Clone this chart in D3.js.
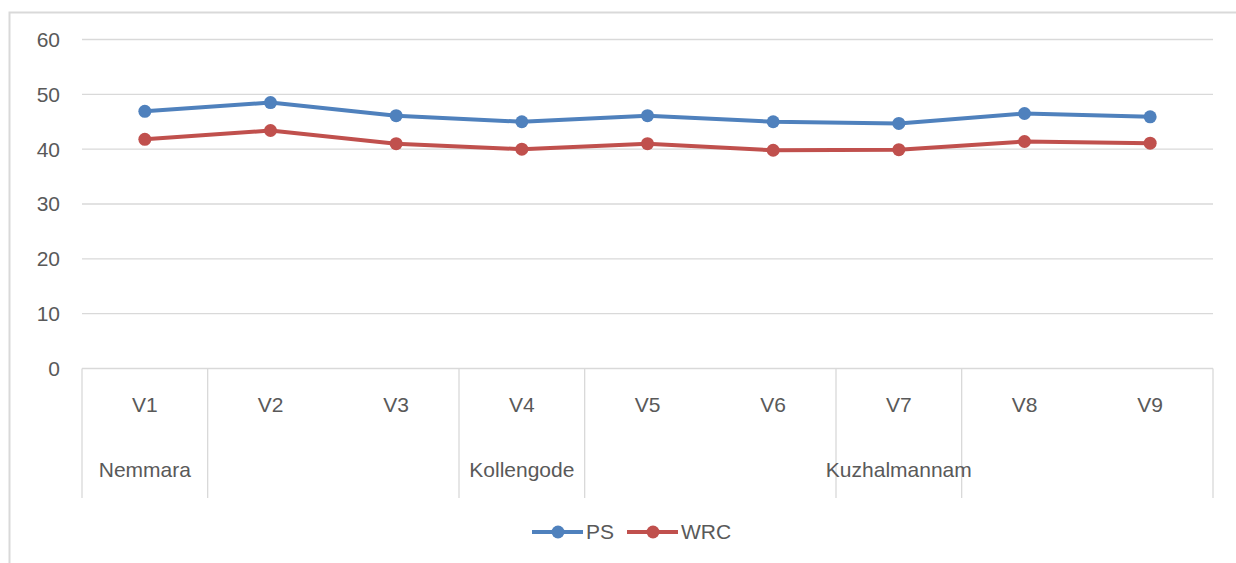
<!DOCTYPE html>
<html>
<head>
<meta charset="utf-8">
<script src="https://cdn.jsdelivr.net/npm/d3@7"></script>
<style>
  body { margin: 0; background: #fff; }
  text { font-family: "Liberation Sans", Arial, sans-serif; fill: #595959; font-size: 21px; }
</style>
</head>
<body>
<div id="chart"></div>
<script>
const categories = ["V1", "V2", "V3", "V4", "V5", "V6", "V7", "V8", "V9"];
const groupNames = ["Nemmara", "", "Kollengode", "", "Kuzhalmannam", ""];
const groupSizes = [1, 2, 1, 2, 1, 2];
const psValues = [46.9, 48.5, 46.1, 45.0, 46.1, 45.0, 44.7, 46.5, 45.9];
const wrcValues = [41.8, 43.4, 41.0, 40.0, 41.0, 39.8, 39.9, 41.4, 41.1];
const yTicks = [0, 10, 20, 30, 40, 50, 60];

const series = [
    {name: "PS", values: psValues, color: "#4f81bd"},
    {name: "WRC", values: wrcValues, color: "#c0504d"}
];

const width = 1236, height = 563;
const plotLeft = 82, plotRight = 1213, plotTop = 39.5, plotBottom = 368.5;
const axisBottom = 498;

let svg = d3.select("#chart")
    .append("svg")
    .attr("width", width)
    .attr("height", height);

// chart frame (runs off the right and bottom edges)
svg.append("rect")
    .attr("x", 9.5)
    .attr("y", 12.5)
    .attr("width", 1300)
    .attr("height", 600)
    .attr("fill", "none")
    .attr("stroke", "#d9d9d9")
    .attr("stroke-width", 2);

const x = d3.scaleBand()
    .domain(categories)
    .range([plotLeft, plotRight]);

const y = d3.scaleLinear()
    .domain([0, 60])
    .range([plotBottom, plotTop]);

// gridlines
svg.append("g")
    .selectAll("line")
    .data(yTicks)
    .enter()
    .append("line")
    .attr("x1", plotLeft)
    .attr("x2", plotRight)
    .attr("y1", d => y(d))
    .attr("y2", d => y(d))
    .attr("stroke", "#d9d9d9")
    .attr("stroke-width", 1.3);

// y labels
svg.append("g")
    .selectAll("text")
    .data(yTicks)
    .enter()
    .append("text")
    .attr("x", 60)
    .attr("y", d => y(d))
    .attr("dy", "0.35em")
    .attr("text-anchor", "end")
    .text(d => d);

// category labels
svg.append("g")
    .selectAll("text")
    .data(categories)
    .enter()
    .append("text")
    .attr("x", d => x(d) + x.bandwidth() / 2)
    .attr("y", 405)
    .attr("dy", "0.35em")
    .attr("text-anchor", "middle")
    .text(d => d);

// group boundaries and labels
let bounds = [0];
groupSizes.forEach(s => bounds.push(bounds[bounds.length - 1] + s));

svg.append("g")
    .selectAll("line")
    .data(bounds)
    .enter()
    .append("line")
    .attr("x1", d => plotLeft + d * x.step())
    .attr("x2", d => plotLeft + d * x.step())
    .attr("y1", plotBottom)
    .attr("y2", axisBottom)
    .attr("stroke", "#d9d9d9")
    .attr("stroke-width", 1.3);

svg.append("g")
    .selectAll("text")
    .data(groupNames)
    .enter()
    .append("text")
    .attr("x", (d, i) => plotLeft + (bounds[i] + groupSizes[i] / 2) * x.step())
    .attr("y", 470)
    .attr("dy", "0.35em")
    .attr("text-anchor", "middle")
    .text(d => d);

// lines and markers
const line = d3.line()
    .x((d, i) => x(categories[i]) + x.bandwidth() / 2)
    .y(d => y(d));

series.forEach(s => {
    svg.append("path")
        .datum(s.values)
        .attr("d", line)
        .attr("fill", "none")
        .attr("stroke", s.color)
        .attr("stroke-width", 4)
        .attr("stroke-linejoin", "round");

    svg.append("g")
        .selectAll("circle")
        .data(s.values)
        .enter()
        .append("circle")
        .attr("cx", (d, i) => x(categories[i]) + x.bandwidth() / 2)
        .attr("cy", d => y(d))
        .attr("r", 6.5)
        .attr("fill", s.color);
});

// legend
const legendX = [532, 627];
let legend = svg.append("g")
    .selectAll("g")
    .data(series)
    .enter()
    .append("g")
    .attr("transform", (d, i) => `translate(${legendX[i]},532)`);

legend.append("line")
    .attr("x1", 0)
    .attr("x2", 51)
    .attr("stroke", d => d.color)
    .attr("stroke-width", 4);

legend.append("circle")
    .attr("cx", 26)
    .attr("r", 6.5)
    .attr("fill", d => d.color);

legend.append("text")
    .attr("x", 54)
    .attr("dy", "0.35em")
    .text(d => d.name);
</script>
</body>
</html>
